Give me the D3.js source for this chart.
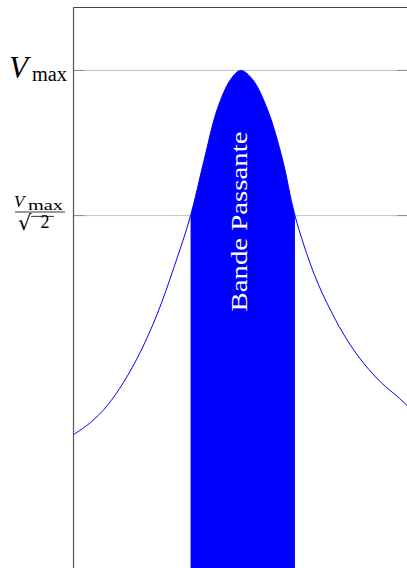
<!DOCTYPE html>
<html>
<head>
<meta charset="utf-8">
<script src="https://cdn.jsdelivr.net/npm/d3@7"></script>
<style>
  html, body { margin: 0; padding: 0; background: #fff; }
  svg { display: block; }
</style>
</head>
<body>
<div id="chart"></div>
<script>
// frequency (Hz) and relative amplitude V/Vmax
const freqs = [500, 550, 600, 650, 700, 750, 800, 850, 890, 930, 970, 1000,
               1035, 1080, 1125, 1162, 1220, 1270, 1320, 1370, 1420, 1470, 1500];
const amps = [0.265, 0.289, 0.323, 0.371, 0.432, 0.508, 0.602, 0.707, 0.818, 0.922, 0.982, 1.0,
              0.982, 0.921, 0.820, 0.707, 0.588, 0.514, 0.454, 0.407, 0.370, 0.341, 0.322];
const band = [850, 1162];
const levels = [1, Math.SQRT1_2];
const bandLabel = "Bande Passante";

const width = 407;
const height = 568;
const plotLeft = 73.5, plotTop = 7.5, plotRight = 408;

const data = freqs.map((f, i) => ({f, v: amps[i]}));

const x = d3.scaleLinear().domain([500, 1500]).range([plotLeft, plotRight]);
const y = d3.scaleLinear().domain([0, 1.127]).range([566, plotTop]);

const svg = d3.select("#chart").append("svg")
    .attr("width", width).attr("height", height)
    .attr("viewBox", [0, 0, width, height])
    .style("font-family", "'Liberation Serif', 'DejaVu Serif', serif");

svg.append("clipPath").attr("id", "band-clip")
    .append("rect")
    .attr("x", x(band[0])).attr("y", 0)
    .attr("width", x(band[1]) - x(band[0])).attr("height", height);

// grid lines at Vmax and Vmax/sqrt(2)
const grid = svg.append("g");
grid.selectAll("line.grid")
    .data(levels)
    .join("line")
    .attr("class", "grid")
    .attr("x1", plotLeft).attr("x2", plotRight)
    .attr("y1", d => y(d)).attr("y2", d => y(d))
    .attr("stroke", "#c4c4c4").attr("stroke-width", 1);

grid.selectAll("line.tick-l")
    .data(levels)
    .join("line")
    .attr("class", "tick-l")
    .attr("x1", plotLeft).attr("x2", plotLeft + 11)
    .attr("y1", d => y(d)).attr("y2", d => y(d))
    .attr("stroke", "#8a8a8a").attr("stroke-width", 1);

grid.selectAll("line.tick-r")
    .data(levels)
    .join("line")
    .attr("class", "tick-r")
    .attr("x1", plotRight - 11).attr("x2", plotRight)
    .attr("y1", d => y(d)).attr("y2", d => y(d))
    .attr("stroke", "#8a8a8a").attr("stroke-width", 1);

// filled pass band
const area = d3.area()
    .x(d => x(d.f))
    .y0(height + 5)
    .y1(d => y(d.v))
    .curve(d3.curveCatmullRom.alpha(0.5));

svg.append("path")
    .datum(data)
    .attr("d", area)
    .attr("fill", "#0000ff")
    .attr("clip-path", "url(#band-clip)");

const line = d3.line()
    .x(d => x(d.f))
    .y(d => y(d.v))
    .curve(d3.curveCatmullRom.alpha(0.5));

svg.append("path")
    .datum(data)
    .attr("d", line)
    .attr("fill", "none")
    .attr("stroke", "#0000ff")
    .attr("stroke-width", 1);

// frame
svg.append("line")
    .attr("x1", plotLeft).attr("x2", plotLeft)
    .attr("y1", plotTop).attr("y2", height)
    .attr("stroke", "#555").attr("stroke-width", 1.2);
svg.append("line")
    .attr("x1", plotLeft).attr("x2", plotRight)
    .attr("y1", plotTop).attr("y2", plotTop)
    .attr("stroke", "#444").attr("stroke-width", 1.2);

// band label
const bx = (x(band[0]) + x(band[1])) / 2 + 4.5;
svg.append("text")
    .attr("transform", `translate(${bx},221.5) rotate(-90)`)
    .attr("text-anchor", "middle")
    .attr("fill", "#fff")
    .attr("font-size", 23)
    .attr("textLength", 180)
    .attr("lengthAdjust", "spacingAndGlyphs")
    .text(bandLabel);

// Vmax label
const yv = y(levels[0]);
svg.append("text")
    .attr("x", 9).attr("y", yv + 7.8)
    .attr("font-style", "italic").attr("font-size", 31)
    .attr("fill", "#000")
    .text("V");
svg.append("text")
    .attr("x", 32).attr("y", yv + 11)
    .attr("font-size", 20)
    .attr("textLength", 35).attr("lengthAdjust", "spacingAndGlyphs")
    .attr("fill", "#000")
    .text("max");

// Vmax / sqrt(2) label
const yf = y(levels[1]);
svg.append("text")
    .attr("x", 14).attr("y", yf - 8.2)
    .attr("font-style", "italic").attr("font-size", 17)
    .attr("fill", "#000")
    .text("V");
svg.append("text")
    .attr("x", 28).attr("y", yf - 5.8)
    .attr("font-size", 15)
    .attr("textLength", 35).attr("lengthAdjust", "spacingAndGlyphs")
    .attr("fill", "#000")
    .text("max");

svg.append("line")
    .attr("x1", 15).attr("x2", 65)
    .attr("y1", yf - 3.6).attr("y2", yf - 3.6)
    .attr("stroke", "#000").attr("stroke-width", 0.8);

svg.append("text")
    .attr("x", 18).attr("y", yf + 14)
    .attr("font-family", "'DejaVu Sans', sans-serif")
    .attr("font-size", 21)
    .attr("fill", "#000")
    .text("\u221A");
svg.append("line")
    .attr("x1", 31).attr("x2", 54)
    .attr("y1", yf + 0.8).attr("y2", yf + 0.8)
    .attr("stroke", "#000").attr("stroke-width", 0.8);
svg.append("text")
    .attr("x", 40.5).attr("y", yf + 12.5)
    .attr("font-size", 18)
    .attr("fill", "#000")
    .text("2");
</script>
</body>
</html>
